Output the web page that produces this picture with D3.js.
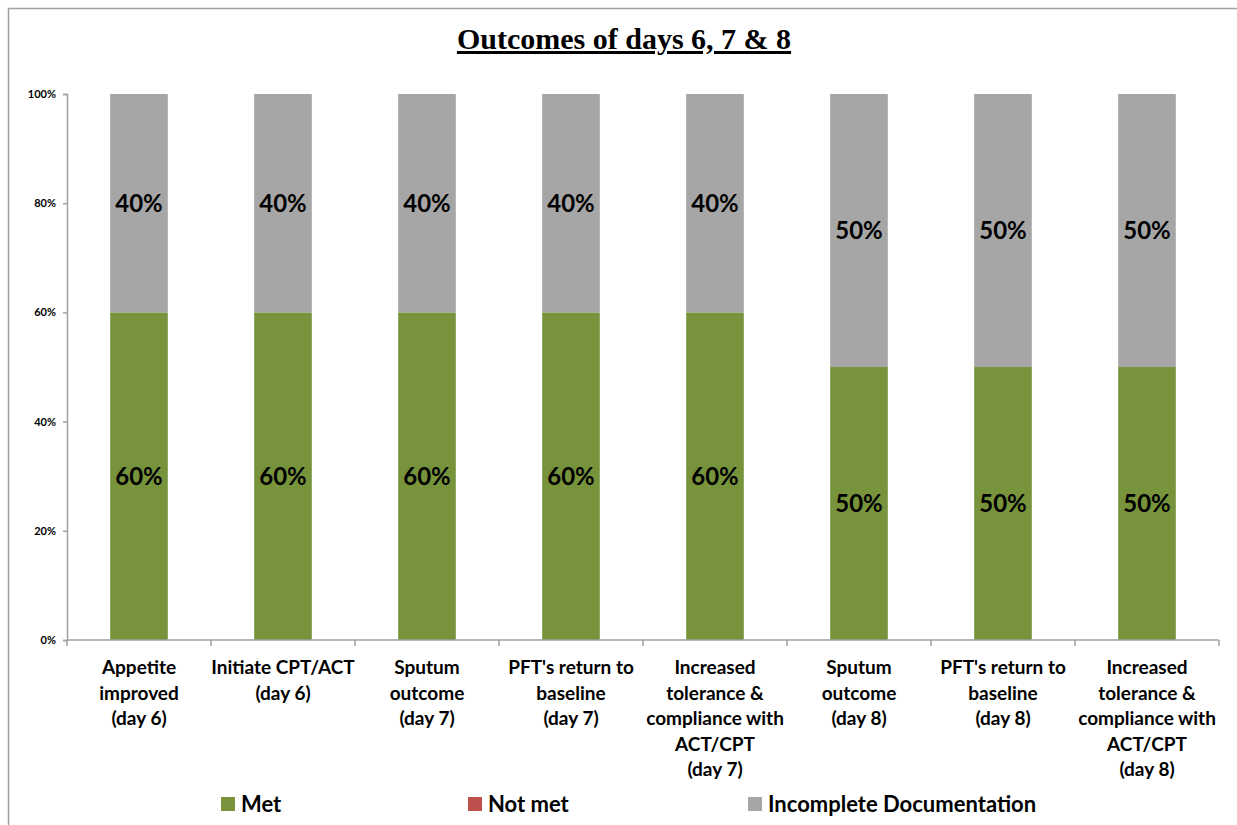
<!DOCTYPE html>
<html>
<head>
<meta charset="utf-8">
<script src="https://cdn.jsdelivr.net/npm/d3@7"></script>
<style>
  body { margin: 0; background: #fff; }
  text { font-family: Lato, "Open Sans", sans-serif; font-weight: bold; fill: #000; }
</style>
</head>
<body>
<script>
// Data
var categories = [
  ["Appetite", "improved", "(day 6)"],
  ["Initiate CPT/ACT", "(day 6)"],
  ["Sputum", "outcome", "(day 7)"],
  ["PFT's return to", "baseline", "(day 7)"],
  ["Increased", "tolerance &", "compliance with", "ACT/CPT", "(day 7)"],
  ["Sputum", "outcome", "(day 8)"],
  ["PFT's return to", "baseline", "(day 8)"],
  ["Increased", "tolerance &", "compliance with", "ACT/CPT", "(day 8)"]
];
var seriesNames = ["Met", "Not met", "Incomplete Documentation"];
var met = [0.6, 0.6, 0.6, 0.6, 0.6, 0.5, 0.5, 0.5];
var notMet = [0, 0, 0, 0, 0, 0, 0, 0];
var incomplete = [0.4, 0.4, 0.4, 0.4, 0.4, 0.5, 0.5, 0.5];
var yTicks = [0, 0.2, 0.4, 0.6, 0.8, 1];
var colors = ["#77933C", "#C0504D", "#A6A6A6"];

var rows = categories.map(function(c, i) {
  return {i: i, met: met[i], notMet: notMet[i], incomplete: incomplete[i]};
});
var keys = ["met", "notMet", "incomplete"];

// Chart config
var W = 1237, H = 825;
var plotLeft = 67, plotRight = 1219, plotTop = 94, plotBottom = 640;

var svg = d3.select("body").append("svg").attr("width", W).attr("height", H);

// outer frame
svg.append("rect").attr("x", 8.5).attr("y", 8.5).attr("width", 1240).attr("height", 830)
   .attr("fill", "none").attr("stroke", "#A0A0A0").attr("stroke-width", 1.5);

var x = d3.scaleBand().domain(d3.range(categories.length)).range([plotLeft, plotRight]).paddingInner(0.6).paddingOuter(0.3);
var xb = d3.scaleBand().domain(d3.range(categories.length)).range([plotLeft, plotRight]);
var y = d3.scaleLinear().domain([0, 1]).range([plotBottom, plotTop]);

// title
svg.append("text").attr("x", 624).attr("y", 49).attr("text-anchor", "middle")
   .style("font-family", "'Liberation Serif', 'DejaVu Serif', serif").style("font-size", "30px")
   .style("text-decoration", "underline")
   .text("Outcomes of days 6, 7 & 8");

// stacked bars
var stacked = d3.stack().keys(keys)(rows);
svg.append("g").selectAll("g").data(stacked).join("g")
   .attr("fill", function(d, i) { return colors[i]; })
   .selectAll("rect").data(function(d) { return d; }).join("rect")
   .attr("x", function(d) { return x(d.data.i); })
   .attr("width", x.bandwidth())
   .attr("y", function(d) { return y(d[1]); })
   .attr("height", function(d) { return y(d[0]) - y(d[1]); });

// segment labels
stacked.forEach(function(layer) {
  svg.append("g").selectAll("text").data(layer.filter(function(d) { return d[1] - d[0] > 0; })).join("text")
     .attr("x", function(d) { return x(d.data.i) + x.bandwidth() / 2; })
     .attr("y", function(d) { return (y(d[0]) + y(d[1])) / 2; })
     .attr("dy", "0.36em")
     .attr("text-anchor", "middle")
     .style("font-size", "24px")
     .text(function(d) { return Math.round((d[1] - d[0]) * 100) + "%"; });
});

// y axis
var yAxis = d3.axisLeft(y).tickValues(yTicks).tickFormat(d3.format(".0%")).tickSize(4).tickPadding(7);
var yAxisEl = svg.append("g").attr("transform", "translate(" + plotLeft + ",0)").call(yAxis);
yAxisEl.selectAll("path, line").attr("stroke", "#A0A0A0").attr("stroke-width", 1.5);
yAxisEl.selectAll("text").style("font-size", "11px").style("font-family", "Lato, sans-serif").style("font-weight", "bold").attr("fill", "#000");

// x axis
var xAxisEl = svg.append("g").attr("transform", "translate(0," + plotBottom + ")");
xAxisEl.append("line").attr("x1", plotLeft).attr("x2", plotRight).attr("stroke", "#A0A0A0").attr("stroke-width", 1.5);
xAxisEl.selectAll("line.tick").data(d3.range(categories.length + 1)).join("line")
   .attr("class", "tick")
   .attr("x1", function(d) { return d < categories.length ? xb(d) : plotRight; })
   .attr("x2", function(d) { return d < categories.length ? xb(d) : plotRight; })
   .attr("y1", 0).attr("y2", 6)
   .attr("stroke", "#A0A0A0").attr("stroke-width", 1.5);

var lbl = svg.append("g").selectAll("text").data(categories).join("text")
   .attr("text-anchor", "middle")
   .style("font-size", "19px")
   .attr("transform", function(d, i) { return "translate(" + (xb(i) + xb.bandwidth() / 2) + ",674)"; });
lbl.selectAll("tspan").data(function(d) { return d; }).join("tspan")
   .attr("x", 0).attr("y", function(d, j) { return j * 25.5; })
   .text(function(d) { return d; });

// legend
var legendX = [221, 468, 748];
var lg = svg.append("g").selectAll("g").data(seriesNames).join("g")
   .attr("transform", function(d, i) { return "translate(" + legendX[i] + ",797)"; });
lg.append("rect").attr("width", 14).attr("height", 14).attr("fill", function(d, i) { return colors[i]; });
lg.append("text").attr("x", 20).attr("y", 7).attr("dy", "0.36em").style("font-size", "22px")
   .text(function(d) { return d; });
</script>
</body>
</html>
